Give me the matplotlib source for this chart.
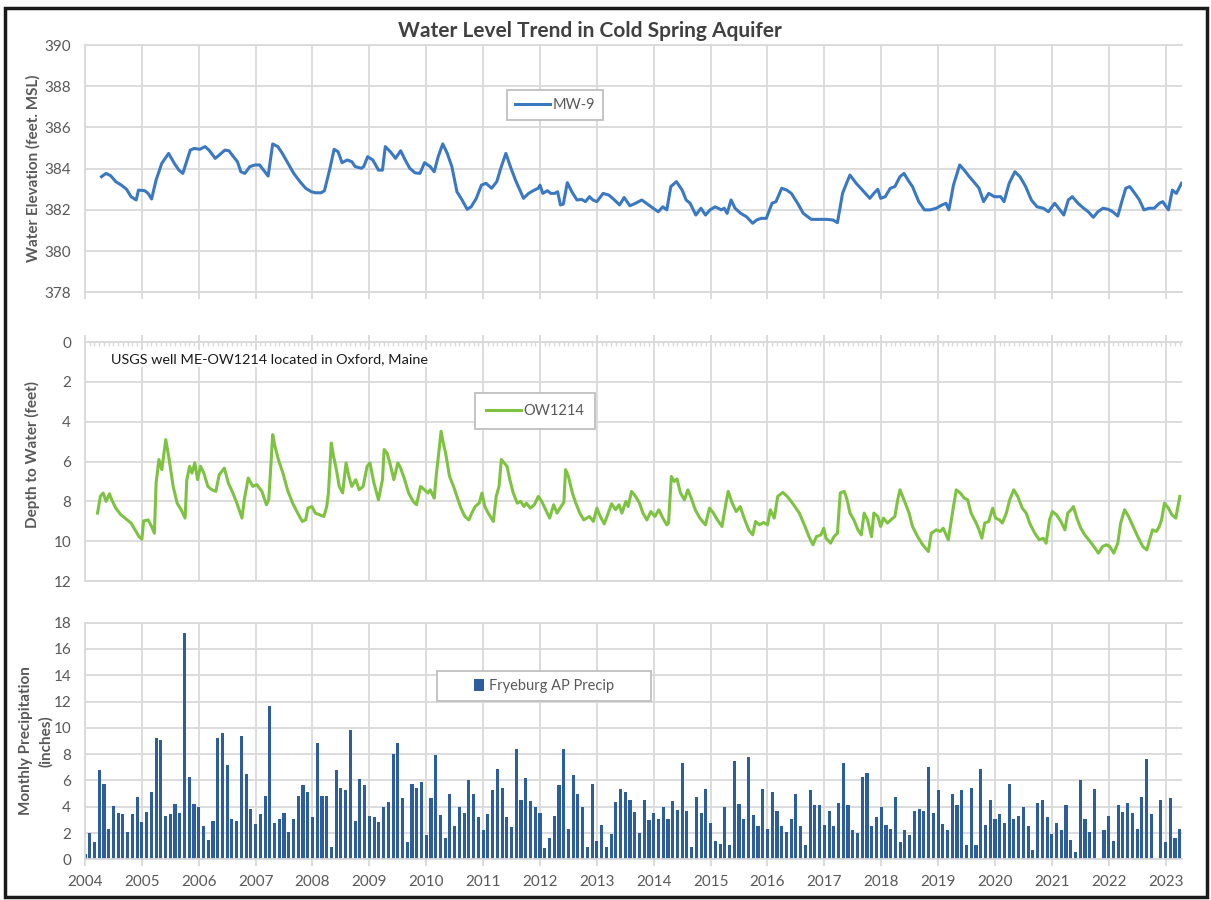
import matplotlib.pyplot as plt
from matplotlib.patches import Rectangle
from matplotlib.ticker import MultipleLocator
import numpy as np

plt.rcParams['font.family'] = ['Lato', 'DejaVu Sans']

# MW-9 water elevation (ft MSL)
mw9_year = [2004.29, 2004.37, 2004.45, 2004.54, 2004.64, 2004.73, 2004.81, 2004.90, 2004.94, 2005.05,
            2005.11, 2005.17, 2005.25, 2005.35, 2005.47, 2005.57, 2005.65, 2005.72, 2005.85, 2005.92,
            2006.02, 2006.11, 2006.18, 2006.29, 2006.36, 2006.46, 2006.53, 2006.61, 2006.68, 2006.74,
            2006.81, 2006.90, 2006.99, 2007.07, 2007.14, 2007.22, 2007.30, 2007.39, 2007.47, 2007.57,
            2007.67, 2007.78, 2007.88, 2007.98, 2008.05, 2008.15, 2008.21, 2008.30, 2008.38, 2008.45,
            2008.52, 2008.61, 2008.69, 2008.75, 2008.86, 2008.90, 2008.97, 2009.06, 2009.16, 2009.23,
            2009.28, 2009.37, 2009.46, 2009.55, 2009.63, 2009.71, 2009.80, 2009.89, 2009.97, 2010.07,
            2010.14, 2010.21, 2010.29, 2010.37, 2010.45, 2010.54, 2010.63, 2010.72, 2010.79, 2010.88,
            2010.97, 2011.05, 2011.15, 2011.24, 2011.32, 2011.40, 2011.49, 2011.58, 2011.66, 2011.71,
            2011.80, 2011.88, 2011.97, 2012.00, 2012.05, 2012.13, 2012.19, 2012.26, 2012.31, 2012.36,
            2012.41, 2012.48, 2012.56, 2012.65, 2012.73, 2012.80, 2012.87, 2012.93, 2013.00, 2013.11,
            2013.21, 2013.31, 2013.40, 2013.48, 2013.58, 2013.68, 2013.79, 2013.99, 2014.08, 2014.16,
            2014.23, 2014.30, 2014.40, 2014.50, 2014.57, 2014.64, 2014.74, 2014.83, 2014.91, 2014.99,
            2015.08, 2015.19, 2015.24, 2015.29, 2015.36, 2015.43, 2015.53, 2015.63, 2015.74, 2015.81,
            2015.89, 2015.98, 2016.08, 2016.15, 2016.25, 2016.34, 2016.42, 2016.53, 2016.63, 2016.77,
            2016.91, 2017.04, 2017.15, 2017.23, 2017.32, 2017.39, 2017.45, 2017.56, 2017.67, 2017.80,
            2017.87, 2017.94, 2017.99, 2018.07, 2018.16, 2018.24, 2018.33, 2018.40, 2018.49, 2018.55,
            2018.66, 2018.76, 2018.86, 2018.97, 2019.07, 2019.14, 2019.19, 2019.27, 2019.38, 2019.46,
            2019.55, 2019.65, 2019.72, 2019.80, 2019.89, 2019.99, 2020.10, 2020.16, 2020.25, 2020.35,
            2020.44, 2020.54, 2020.64, 2020.74, 2020.85, 2020.94, 2021.05, 2021.12, 2021.21, 2021.29,
            2021.36, 2021.46, 2021.56, 2021.64, 2021.73, 2021.81, 2021.90, 2021.99, 2022.07, 2022.16,
            2022.23, 2022.30, 2022.37, 2022.46, 2022.54, 2022.62, 2022.71, 2022.80, 2022.89, 2022.95,
            2023.05, 2023.12, 2023.19, 2023.28]
mw9_elev = [383.61, 383.77, 383.66, 383.37, 383.20, 383.00, 382.64, 382.48, 382.96, 382.93,
            382.80, 382.53, 383.45, 384.26, 384.74, 384.26, 383.93, 383.77, 384.90, 384.98,
            384.94, 385.07, 384.90, 384.50, 384.66, 384.90, 384.87, 384.58, 384.34, 383.85,
            383.77, 384.10, 384.18, 384.18, 383.93, 383.64, 385.20, 385.07, 384.74, 384.26,
            383.77, 383.37, 383.05, 382.88, 382.83, 382.83, 382.93, 383.93, 384.94, 384.82,
            384.29, 384.42, 384.34, 384.10, 384.02, 384.10, 384.58, 384.42, 383.93, 383.93,
            385.07, 384.82, 384.50, 384.87, 384.42, 384.02, 383.80, 383.77, 384.29, 384.10,
            383.85, 384.58, 385.20, 384.74, 384.10, 382.88, 382.48, 382.03, 382.15, 382.56,
            383.20, 383.29, 383.05, 383.37, 384.10, 384.74, 384.02, 383.37, 382.88, 382.56,
            382.80, 382.93, 383.05, 383.20, 382.80, 382.93, 382.80, 382.80, 382.88, 382.24,
            382.28, 383.32, 382.88, 382.48, 382.51, 382.40, 382.64, 382.48, 382.40, 382.80,
            382.72, 382.48, 382.24, 382.60, 382.20, 382.32, 382.48, 382.08, 381.91, 382.15,
            382.00, 383.13, 383.37, 382.96, 382.48, 382.32, 381.75, 382.08, 381.75, 382.00,
            382.15, 382.00, 382.08, 381.83, 382.48, 382.08, 381.83, 381.67, 381.35, 381.51,
            381.59, 381.59, 382.32, 382.40, 383.05, 382.96, 382.80, 382.32, 381.83, 381.54,
            381.54, 381.54, 381.51, 381.38, 382.80, 383.29, 383.69, 383.29, 382.96, 382.56,
            382.80, 383.00, 382.56, 382.64, 383.05, 383.13, 383.61, 383.77, 383.37, 383.13,
            382.40, 382.00, 382.00, 382.08, 382.24, 382.32, 382.00, 383.20, 384.18, 383.93,
            383.61, 383.29, 383.05, 382.40, 382.80, 382.64, 382.64, 382.40, 383.29, 383.85,
            383.61, 383.13, 382.48, 382.15, 382.08, 381.91, 382.32, 382.08, 381.75, 382.48,
            382.64, 382.32, 382.08, 381.91, 381.64, 381.91, 382.08, 382.03, 381.91, 381.70,
            382.40, 383.05, 383.13, 382.80, 382.48, 382.00, 382.08, 382.08, 382.32, 382.40,
            382.00, 382.96, 382.80, 383.29]

# USGS OW1214 depth to water (ft)
ow_year = [2004.22, 2004.27, 2004.32, 2004.37, 2004.43, 2004.47, 2004.54, 2004.63, 2004.74, 2004.81,
           2004.88, 2004.95, 2005.00, 2005.03, 2005.11, 2005.17, 2005.22, 2005.25, 2005.30, 2005.35,
           2005.39, 2005.42, 2005.45, 2005.48, 2005.55, 2005.62, 2005.69, 2005.76, 2005.79, 2005.84,
           2005.88, 2005.93, 2005.98, 2006.03, 2006.09, 2006.16, 2006.23, 2006.30, 2006.36, 2006.45,
           2006.52, 2006.60, 2006.67, 2006.76, 2006.80, 2006.87, 2006.95, 2007.02, 2007.11, 2007.19,
           2007.23, 2007.26, 2007.30, 2007.34, 2007.40, 2007.48, 2007.56, 2007.65, 2007.74, 2007.82,
           2007.88, 2007.92, 2007.99, 2008.05, 2008.12, 2008.20, 2008.25, 2008.28, 2008.33, 2008.37,
           2008.42, 2008.47, 2008.53, 2008.59, 2008.64, 2008.69, 2008.76, 2008.82, 2008.89, 2008.96,
           2009.01, 2009.08, 2009.16, 2009.23, 2009.26, 2009.31, 2009.36, 2009.43, 2009.50, 2009.55,
           2009.62, 2009.69, 2009.77, 2009.83, 2009.90, 2009.97, 2010.03, 2010.07, 2010.14, 2010.18,
           2010.22, 2010.26, 2010.30, 2010.34, 2010.41, 2010.48, 2010.54, 2010.61, 2010.68, 2010.75,
           2010.80, 2010.86, 2010.93, 2010.98, 2011.03, 2011.09, 2011.18, 2011.23, 2011.28, 2011.32,
           2011.37, 2011.42, 2011.47, 2011.53, 2011.60, 2011.66, 2011.72, 2011.76, 2011.83, 2011.90,
           2011.97, 2012.03, 2012.10, 2012.17, 2012.24, 2012.30, 2012.37, 2012.42, 2012.45, 2012.50,
           2012.57, 2012.63, 2012.70, 2012.77, 2012.87, 2012.94, 2013.00, 2013.06, 2013.13, 2013.20,
           2013.26, 2013.33, 2013.39, 2013.44, 2013.51, 2013.55, 2013.61, 2013.68, 2013.75, 2013.81,
           2013.88, 2013.95, 2014.02, 2014.09, 2014.16, 2014.23, 2014.26, 2014.31, 2014.36, 2014.41,
           2014.47, 2014.54, 2014.60, 2014.66, 2014.73, 2014.81, 2014.91, 2014.98, 2015.05, 2015.12,
           2015.20, 2015.27, 2015.31, 2015.38, 2015.45, 2015.52, 2015.59, 2015.67, 2015.74, 2015.79,
           2015.86, 2015.93, 2016.00, 2016.05, 2016.12, 2016.18, 2016.27, 2016.36, 2016.46, 2016.56,
           2016.66, 2016.73, 2016.80, 2016.86, 2016.94, 2016.99, 2017.03, 2017.11, 2017.17, 2017.23,
           2017.28, 2017.35, 2017.40, 2017.45, 2017.52, 2017.59, 2017.65, 2017.70, 2017.76, 2017.83,
           2017.87, 2017.94, 2017.99, 2018.04, 2018.11, 2018.17, 2018.24, 2018.29, 2018.33, 2018.40,
           2018.49, 2018.55, 2018.64, 2018.73, 2018.83, 2018.88, 2018.97, 2019.04, 2019.09, 2019.14,
           2019.18, 2019.27, 2019.32, 2019.39, 2019.46, 2019.52, 2019.58, 2019.67, 2019.72, 2019.77,
           2019.82, 2019.89, 2019.96, 2020.01, 2020.08, 2020.13, 2020.20, 2020.26, 2020.33, 2020.40,
           2020.48, 2020.55, 2020.61, 2020.70, 2020.78, 2020.85, 2020.90, 2020.96, 2021.01, 2021.08,
           2021.16, 2021.23, 2021.28, 2021.34, 2021.38, 2021.44, 2021.51, 2021.58, 2021.65, 2021.74,
           2021.82, 2021.89, 2021.96, 2022.02, 2022.09, 2022.16, 2022.21, 2022.28, 2022.35, 2022.43,
           2022.51, 2022.60, 2022.67, 2022.72, 2022.77, 2022.84, 2022.89, 2022.93, 2022.98, 2023.05,
           2023.11, 2023.18, 2023.25]
ow_depth = [8.59, 7.75, 7.58, 8.00, 7.62, 7.92, 8.34, 8.67, 8.93, 9.09,
            9.43, 9.77, 9.90, 8.98, 8.93, 9.26, 9.60, 7.08, 5.90, 6.41,
            5.57, 4.90, 5.40, 5.90, 7.25, 8.09, 8.42, 8.84, 6.91, 6.24,
            6.58, 6.07, 6.91, 6.24, 6.58, 7.25, 7.42, 7.50, 6.66, 6.33,
            7.08, 7.58, 8.09, 8.84, 7.92, 6.83, 7.25, 7.16, 7.50, 8.17,
            7.92, 6.58, 4.65, 5.23, 5.90, 6.58, 7.42, 8.09, 8.59, 9.01,
            8.93, 8.34, 8.26, 8.59, 8.67, 8.76, 8.26, 7.58, 5.07, 5.74,
            6.41, 7.25, 7.58, 6.07, 6.75, 7.25, 6.91, 7.42, 7.25, 6.24,
            6.07, 7.08, 7.92, 6.91, 5.40, 5.57, 6.07, 6.91, 6.07, 6.33,
            6.91, 7.58, 8.00, 8.17, 7.25, 7.42, 7.58, 7.42, 7.84, 6.58,
            5.57, 4.48, 5.07, 5.57, 6.75, 7.25, 7.75, 8.34, 8.76, 8.93,
            8.59, 8.26, 8.09, 7.58, 8.26, 8.59, 9.01, 7.75, 7.25, 5.90,
            6.07, 6.24, 6.91, 7.58, 8.09, 8.00, 8.26, 8.09, 8.34, 8.17,
            7.75, 8.00, 8.42, 8.84, 8.17, 8.59, 8.26, 8.05, 6.41, 6.75,
            7.58, 8.09, 8.59, 8.93, 8.76, 9.01, 8.34, 8.76, 9.13, 8.59,
            8.12, 8.42, 8.17, 8.59, 8.00, 8.26, 7.50, 7.75, 8.09, 8.59,
            8.93, 8.51, 8.76, 8.42, 8.84, 9.18, 9.09, 6.75, 7.00, 6.88,
            7.58, 7.92, 7.42, 7.84, 8.42, 8.84, 9.18, 8.34, 8.59, 8.93,
            9.26, 8.09, 7.50, 8.09, 8.51, 8.26, 8.84, 9.43, 9.68, 9.01,
            9.18, 9.06, 9.18, 8.42, 8.84, 7.75, 7.55, 7.79, 8.17, 8.59,
            9.26, 9.77, 10.18, 9.77, 9.68, 9.35, 9.85, 10.10, 9.77, 9.60,
            7.58, 7.50, 7.92, 8.59, 8.93, 9.43, 9.68, 8.59, 8.93, 9.77,
            8.59, 8.76, 9.26, 8.84, 9.09, 8.93, 8.76, 7.92, 7.42, 7.92,
            8.59, 9.26, 9.77, 10.18, 10.52, 9.60, 9.43, 9.51, 9.35, 9.68,
            9.93, 8.26, 7.42, 7.58, 7.84, 7.92, 8.59, 9.09, 9.43, 9.85,
            9.09, 9.01, 8.34, 8.84, 8.93, 9.09, 8.59, 7.92, 7.42, 7.75,
            8.34, 8.59, 9.09, 9.60, 9.93, 9.85, 10.10, 8.93, 8.51, 8.67,
            9.01, 9.43, 8.59, 8.42, 8.26, 8.84, 9.35, 9.68, 9.93, 10.27,
            10.60, 10.27, 10.18, 10.27, 10.60, 10.10, 9.09, 8.42, 8.76, 9.26,
            9.77, 10.27, 10.44, 9.93, 9.43, 9.51, 9.26, 8.93, 8.09, 8.34,
            8.67, 8.84, 7.75]

# Fryeburg AP monthly precipitation (in), Jan 2004 - Apr 2023
precip = [0.4, 2.0, 1.3, 6.8, 5.7, 2.3, 4.05, 3.55, 3.45, 2.1, 3.45, 4.75,
          2.85, 3.6, 5.15, 9.2, 9.05, 3.3, 3.45, 4.2, 3.55, 17.2, 6.3, 4.2,
          4.0, 2.5, 1.5, 2.95, 9.25, 9.6, 7.2, 3.05, 2.9, 9.35, 6.5, 3.8,
          2.7, 3.45, 4.8, 11.7, 2.75, 3.1, 3.5, 2.1, 3.05, 4.8, 5.65, 5.15,
          3.2, 8.85, 4.8, 4.8, 0.9, 6.8, 5.45, 5.25, 9.8, 2.95, 6.1, 5.65,
          3.3, 3.2, 2.85, 4.0, 4.35, 8.0, 8.85, 4.65, 1.35, 5.7, 5.45, 5.9,
          1.85, 4.65, 7.9, 3.35, 1.6, 4.95, 2.5, 3.95, 3.55, 6.05, 4.95, 3.2,
          2.2, 3.45, 5.25, 6.9, 5.4, 3.2, 2.45, 8.4, 4.5, 6.15, 4.45, 3.95,
          3.55, 0.85, 1.6, 3.3, 5.65, 8.4, 2.3, 6.4, 4.95, 3.95, 0.9, 5.75,
          1.4, 2.6, 0.9, 1.95, 4.35, 5.35, 5.1, 4.5, 3.6, 2.0, 4.5, 3.0,
          3.55, 3.1, 4.0, 3.1, 4.45, 3.75, 7.3, 3.65, 0.9, 4.75, 3.5, 5.35,
          2.75, 1.4, 1.15, 3.95, 1.1, 7.5, 4.2, 3.1, 7.8, 3.35, 2.55, 5.35,
          2.3, 5.1, 3.65, 2.5, 2.1, 3.1, 4.95, 2.55, 1.1, 5.25, 4.15, 4.15,
          2.6, 3.65, 2.5, 4.3, 7.3, 4.15, 2.25, 2.0, 6.3, 6.6, 2.55, 3.2,
          3.95, 2.6, 2.3, 4.75, 1.3, 2.2, 1.85, 3.7, 3.85, 3.7, 7.05, 3.5,
          5.25, 2.7, 2.25, 5.0, 4.15, 5.25, 1.1, 5.45, 1.1, 6.85, 2.6, 4.5,
          3.05, 3.45, 2.75, 5.75, 3.05, 3.3, 3.95, 2.5, 0.7, 4.3, 4.5, 3.2,
          1.9, 2.75, 2.25, 4.15, 1.5, 0.55, 6.05, 3.1, 2.1, 5.35, 0.0, 2.2,
          3.3, 1.4, 4.15, 3.6, 4.3, 3.5, 2.3, 4.75, 7.65, 3.45, 0.0, 4.5,
          1.3, 4.7, 1.6, 2.3]
precip_year = 2004 + np.arange(len(precip)) / 12

years = list(range(2004, 2024))

GRID = '#d9d9d9'
TXT = '#595959'

fig = plt.figure(figsize=(12.11, 9.0), dpi=100)
ax1 = fig.add_axes([0.0702, 0.6752, 0.9059, 0.2748])
ax2 = fig.add_axes([0.0702, 0.3544, 0.9059, 0.2656])
ax3 = fig.add_axes([0.0702, 0.0452, 0.9059, 0.2629])

for ax in (ax1, ax2, ax3):
    ax.set_xlim(2004, 2023.29)
    ax.set_xticks(years)
    ax.grid(True, color=GRID, lw=1.3)
    ax.set_axisbelow(True)
    for s in ax.spines.values():
        s.set_color(GRID)
        s.set_linewidth(1.3)
    ax.spines['right'].set_visible(False)
    ax.tick_params(axis='y', length=0, pad=10, labelsize=11, labelcolor=TXT)
    ax.tick_params(axis='x', color=GRID, width=1.3, length=5, labelsize=11, labelcolor=TXT)

# top panel
ax1.plot(mw9_year, mw9_elev, color='#3b78c2', lw=2.2, label='MW-9')
ax1.set_ylim(378, 390)
ax1.set_yticks(range(378, 391, 2))
ax1.tick_params(axis='x', labelbottom=False)
leg1 = ax1.legend(loc='upper left', bbox_to_anchor=(0.378, 0.846), fancybox=False,
                  edgecolor='#bfbfbf', framealpha=1, handlelength=2.4, handletextpad=0.15,
                  borderpad=0.55, fontsize=10.5, labelcolor=TXT)
leg1.get_frame().set_linewidth(1.3)

# middle panel
ax2.plot(ow_year, ow_depth, color='#7ec242', lw=2.2, label='OW1214')
ax2.set_ylim(12, 0)
ax2.set_yticks(range(0, 13, 2))
ax2.xaxis.set_ticks_position('top')
ax2.tick_params(axis='x', labeltop=False, labelbottom=False)
ax2.xaxis.set_minor_locator(MultipleLocator(1 / 12))
ax2.tick_params(axis='x', which='minor', direction='in', length=3, color=GRID, width=1)
ax2.text(0.0237, 0.93, 'USGS well ME-OW1214 located in Oxford, Maine', transform=ax2.transAxes,
         fontsize=10.4, ha='left', va='center', color='#1a1a1a',
         bbox=dict(facecolor='white', edgecolor='none', pad=2))
leg2 = ax2.legend(loc='upper left', bbox_to_anchor=(0.349, 0.818), fancybox=False,
                  edgecolor='#bfbfbf', framealpha=1, handlelength=2.4, handletextpad=0.15,
                  borderpad=0.75, fontsize=10.5, labelcolor=TXT)
leg2.get_frame().set_linewidth(1.3)

# bottom panel
ax3.bar(precip_year, precip, width=0.055, color='#2d5d9b', label='Fryeburg AP Precip')
ax3.set_ylim(0, 18)
ax3.set_yticks(range(0, 19, 2))
ax3.set_xticklabels([str(y) for y in years])
ax3.tick_params(axis='x', pad=6)
ax3.add_patch(Rectangle((0.321, 0.669), 0.195, 0.126, transform=ax3.transAxes,
                        facecolor='white', edgecolor='#bfbfbf', lw=1.3, zorder=4))
ax3.legend(loc='center', bbox_to_anchor=(0.4185, 0.732), frameon=False, handlelength=0.7,
           handleheight=0.9, handletextpad=0.3, fontsize=10.5, labelcolor=TXT)

# titles / axis labels
fig.text(590 / 1211, 1 - 31 / 900, 'Water Level Trend in Cold Spring Aquifer', ha='center',
         va='center', fontsize=15, fontweight='bold', color='#404040')
fig.text(33 / 1211, 1 - 168 / 900, 'Water Elevation (feet. MSL)', rotation=90, ha='center',
         va='center', fontsize=11, fontweight='bold', color=TXT)
fig.text(32 / 1211, 1 - 455 / 900, 'Depth to Water (feet)', rotation=90, ha='center',
         va='center', fontsize=11, fontweight='bold', color=TXT)
fig.text(36 / 1211, 1 - 741 / 900, 'Monthly Precipitation\n(inches)', rotation=90, ha='center',
         va='center', multialignment='center', fontsize=11, fontweight='bold', color=TXT,
         linespacing=1.5)

fig.patches.append(Rectangle((5 / 1211, 3 / 900), 1202 / 1211, 889 / 900, transform=fig.transFigure,
                             fill=False, edgecolor='#1a1a1a', lw=2.5))

fig.savefig('out.png', dpi=100)
